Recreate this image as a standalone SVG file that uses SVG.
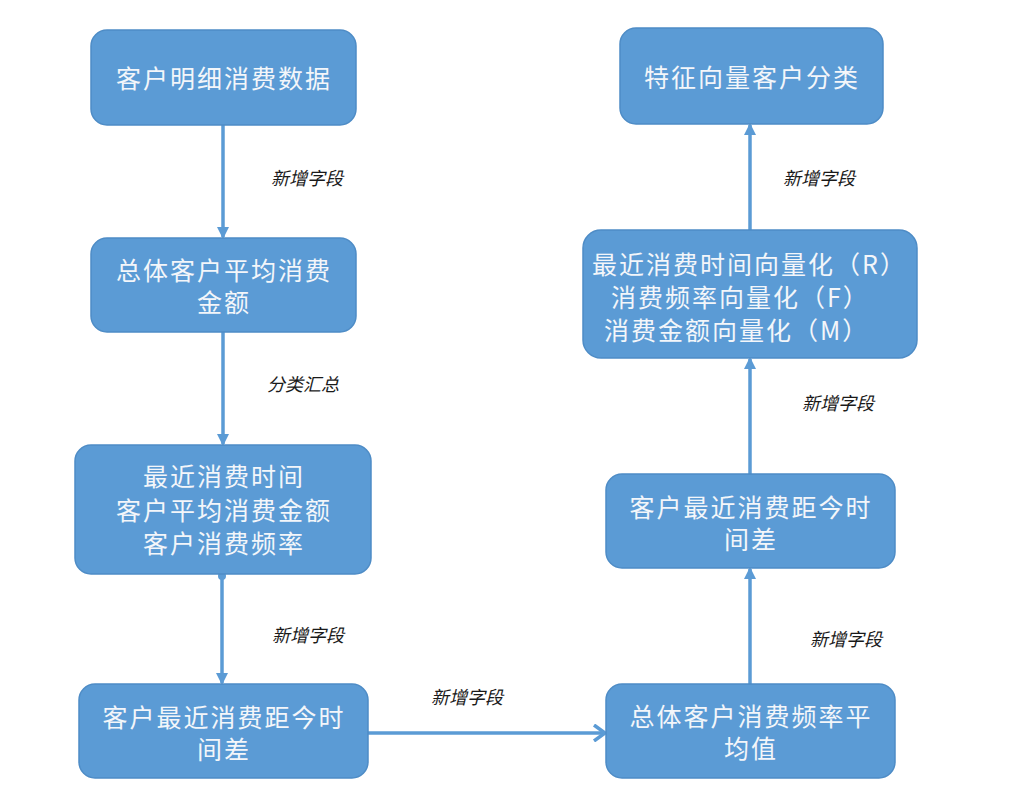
<svg xmlns="http://www.w3.org/2000/svg" width="1024" height="791" viewBox="0 0 1024 791">
<style>
.box{fill:#5B9BD5;stroke:#4E8CC6;stroke-width:1.5}
.t{font-family:"Noto Sans CJK SC","Liberation Sans",sans-serif;font-size:25px;fill:#F3F6FA;letter-spacing:2px;dominant-baseline:central}
.c{text-anchor:middle}
.lbl{font-family:"Noto Sans CJK SC","Liberation Sans",sans-serif;font-size:18px;font-style:italic;fill:#1a1a1a;text-anchor:middle;dominant-baseline:central}
.ln{stroke:#5B9BD5;stroke-width:3.5;fill:none}
</style>
<defs>
<marker id="tri" markerWidth="12" markerHeight="12" refX="10" refY="6" orient="auto" markerUnits="userSpaceOnUse">
<path d="M0,0 L12,6 L0,12 Z" fill="#5B9BD5"/>
</marker>
<marker id="chev" markerWidth="16" markerHeight="18" refX="13" refY="9" orient="auto" markerUnits="userSpaceOnUse">
<path d="M2,1 L13,9 L2,17" fill="none" stroke="#5B9BD5" stroke-width="3.5"/>
</marker>
</defs>
<rect width="1024" height="791" fill="#FFFFFF"/>
<g id="connectors">
<line class="ln" x1="223" y1="125" x2="223" y2="237" marker-end="url(#tri)"/>
<line class="ln" x1="223" y1="332" x2="223" y2="444" marker-end="url(#tri)"/>
<circle cx="222" cy="576" r="4" fill="#5B9BD5"/>
<line class="ln" x1="222" y1="574" x2="222" y2="683" marker-end="url(#tri)"/>
<line class="ln" x1="368" y1="733" x2="605" y2="733" marker-end="url(#chev)"/>
<line class="ln" x1="750" y1="684" x2="750" y2="569" marker-end="url(#tri)"/>
<line class="ln" x1="750" y1="474" x2="750" y2="359" marker-end="url(#tri)"/>
<line class="ln" x1="750" y1="230" x2="750" y2="125" marker-end="url(#tri)"/>
<text class="lbl" x="307" y="177">新增字段</text>
<text class="lbl" x="303" y="383">分类汇总</text>
<text class="lbl" x="308" y="634">新增字段</text>
<text class="lbl" x="467" y="696">新增字段</text>
<text class="lbl" x="819" y="177">新增字段</text>
<text class="lbl" x="838" y="402">新增字段</text>
<text class="lbl" x="846" y="638">新增字段</text>
</g>
<g id="n1">
<rect class="box" x="91" y="30" width="265" height="95" rx="16"/>
<text class="t c" x="224" y="77">客户明细消费数据</text>
</g>
<g id="n2">
<rect class="box" x="91" y="238" width="265" height="94" rx="16"/>
<text class="t c" x="224" y="269">总体客户平均消费</text>
<text class="t c" x="224" y="301">金额</text>
</g>
<g id="n3">
<rect class="box" x="75" y="445" width="296" height="129" rx="16"/>
<text class="t c" x="224" y="475">最近消费时间</text>
<text class="t c" x="224" y="509">客户平均消费金额</text>
<text class="t c" x="224" y="542">客户消费频率</text>
</g>
<g id="n4">
<rect class="box" x="79" y="684" width="289" height="94" rx="16"/>
<text class="t c" x="224" y="716">客户最近消费距今时</text>
<text class="t c" x="224" y="748">间差</text>
</g>
<g id="n5">
<rect class="box" x="606" y="684" width="289" height="94" rx="16"/>
<text class="t c" x="751" y="715">总体客户消费频率平</text>
<text class="t c" x="751" y="747">均值</text>
</g>
<g id="n6">
<rect class="box" x="606" y="474" width="289" height="94" rx="16"/>
<text class="t c" x="751" y="506">客户最近消费距今时</text>
<text class="t c" x="751" y="538">间差</text>
</g>
<g id="n7">
<rect class="box" x="583" y="230" width="334" height="128" rx="18"/>
<text class="t" x="592" y="263">最近消费时间向量化（R）</text>
<text class="t" x="611" y="296">消费频率向量化（F）</text>
<text class="t" x="604" y="329">消费金额向量化（M）</text>
</g>
<g id="n8">
<rect class="box" x="620" y="28" width="263" height="96" rx="16"/>
<text class="t c" x="752" y="76">特征向量客户分类</text>
</g>
</svg>
